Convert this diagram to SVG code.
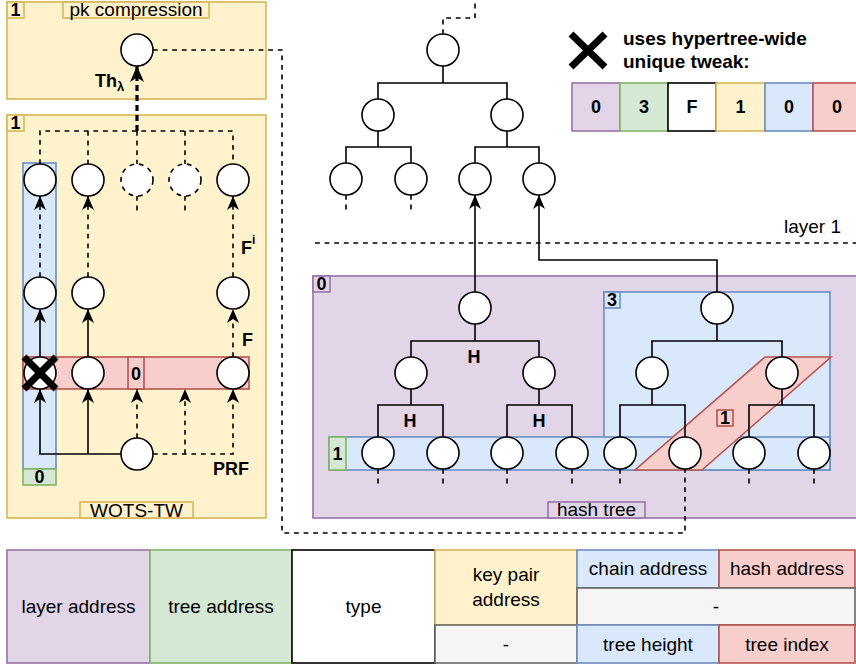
<svg xmlns="http://www.w3.org/2000/svg" width="856" height="668" viewBox="0 0 856 668">
<style>
text{font-family:"Liberation Sans",Arial,Helvetica,sans-serif;fill:#000}
.t19{font-size:19px}
.b{font-weight:bold}
.c{text-anchor:middle}
.n{fill:#fff;stroke:#000;stroke-width:1.6}
.nd{fill:#fff;stroke:#000;stroke-width:1.6;stroke-dasharray:4.8 4.8}
.ln{fill:none;stroke:#000;stroke-width:1.6}
.dl{fill:none;stroke:#000;stroke-width:1.6;stroke-dasharray:4.8 4.8}
.yel{fill:#fff2cc;stroke:#d6b656;stroke-width:1.6}
.blu{fill:#dae8fc;stroke:#6c8ebf;stroke-width:1.6}
.red{fill:#f8cecc;stroke:#b85450;stroke-width:1.6}
.grn{fill:#d5e8d4;stroke:#82b366;stroke-width:1.6}
.pur{fill:#e1d5e7;stroke:#9673a6;stroke-width:1.6}
.wht{fill:#fff;stroke:#000;stroke-width:1.6}
.gry{fill:#f5f5f5;stroke:#666;stroke-width:1.6}
.x{stroke:#000;stroke-width:7;fill:none}
</style>
<defs>
<marker id="arr" viewBox="0 0 14 12" refX="14" refY="6" markerWidth="14" markerHeight="12" markerUnits="userSpaceOnUse" orient="auto"><path d="M0,0 L14,6 L0,12 L4,6 Z" fill="#000"/></marker>
<marker id="arrT" viewBox="0 0 16 14" refX="16" refY="7" markerWidth="16" markerHeight="14" markerUnits="userSpaceOnUse" orient="auto"><path d="M0,0 L16,7 L0,14 L4.5,7 Z" fill="#000"/></marker>
</defs>

<!-- containers -->
<g id="pk-compression">
<rect class="yel" x="7" y="2" width="259" height="97"/>
<rect class="yel" x="7" y="2" width="17" height="16"/>
<text class="b c" x="15.5" y="16" font-size="18">1</text>
<rect class="yel" x="63" y="2" width="146" height="16"/>
<text class="t19 c" x="136" y="16">pk compression</text>
</g>
<g id="wots-tw">
<rect class="yel" x="7" y="115" width="259" height="403"/>
<rect class="yel" x="7" y="115" width="17" height="16"/>
<text class="b c" x="15.5" y="129" font-size="18">1</text>
<rect class="yel" x="80" y="502" width="113" height="16"/>
<text class="t19 c" x="136.5" y="517">WOTS-TW</text>
<rect class="blu" x="23" y="163" width="33" height="306"/>
<rect class="grn" x="23" y="469" width="33" height="16"/>
<text class="b c" x="39.5" y="483" font-size="18">0</text>
<rect class="red" x="23" y="357" width="226" height="32"/>
<rect class="red" x="128" y="357" width="16" height="32"/>
<text class="b c" x="136" y="380" font-size="18">0</text>
</g>
<g id="hash-tree">
<rect class="pur" x="313" y="276" width="550" height="242"/>
<rect class="pur" x="313" y="276" width="17" height="16"/>
<text class="b c" x="321.5" y="290" font-size="18">0</text>
<rect class="pur" x="548" y="502" width="97" height="16"/>
<text class="t19 c" x="596.5" y="516">hash tree</text>
<rect class="blu" x="604" y="292" width="226" height="178"/>
<rect class="blu" x="604" y="292" width="16" height="16"/>
<text class="b c" x="612" y="306" font-size="18">3</text>
<rect class="blu" x="329" y="437" width="501" height="33"/>
<rect class="grn" x="329" y="437" width="17" height="33"/>
<text class="b c" x="337.5" y="460" font-size="18">1</text>
<polygon class="red" points="635,470 702,470 831,357 765,357"/>
<rect class="red" x="717" y="410" width="16" height="16"/>
<text class="b c" x="725" y="424" font-size="18">1</text>
</g>

<!-- connectors -->
<g id="connectors">
<path class="dl" d="M40,164 V131 H233 V164 M88,131 V164 M137,131 V164 M185,131 V164"/>
<path class="dl" d="M137,196 V212 M185,196 V212"/>
<path d="M137,131 V66" fill="none" stroke="#000" stroke-width="3.2" stroke-dasharray="6 4" marker-end="url(#arrT)"/>
<path class="dl" d="M40,277 V196" marker-end="url(#arr)"/>
<path class="dl" d="M88,277 V196" marker-end="url(#arr)"/>
<path class="dl" d="M233,277 V196" marker-end="url(#arr)"/>
<path class="ln" d="M40,357 V309" marker-end="url(#arr)"/>
<path class="ln" d="M88,357 V309" marker-end="url(#arr)"/>
<path class="dl" d="M233,357 V309" marker-end="url(#arr)"/>
<path class="ln" d="M121,454 H40 V389" marker-end="url(#arr)"/>
<path class="ln" d="M88,454 V389" marker-end="url(#arr)"/>
<path class="dl" d="M137,438 V389" marker-end="url(#arr)"/>
<path class="dl" d="M153,454 H233 V389" marker-end="url(#arr)"/>
<path class="dl" d="M185,454 V389" marker-end="url(#arr)"/>
<path class="dl" d="M153,50 H282 V533 H685 V469"/>
<path class="dl" d="M443,34 V18 H475 V0"/>
<path class="ln" d="M443,66 V83 M378,99 V83 H507 V99"/>
<path class="ln" d="M378,131 V147 M346,163 V147 H411 V163"/>
<path class="ln" d="M507,131 V147 M475,163 V147 H539 V163"/>
<path class="dl" d="M346,195 V210 M411,195 V210"/>
<path class="ln" d="M475,292 V195" marker-end="url(#arr)"/>
<path class="ln" d="M717,292 V260 H539 V195" marker-end="url(#arr)"/>
<path class="dl" d="M315,243 H856"/>
<path class="ln" d="M475,324 V341 M411,357 V341 H539 V357"/>
<path class="ln" d="M411,389 V405 M378,437 V405 H443 V437"/>
<path class="ln" d="M539,389 V405 M507,437 V405 H572 V437"/>
<path class="ln" d="M717,324 V341 M652,357 V341 H782 V357"/>
<path class="ln" d="M652,389 V405 M620,437 V405 H685 V437"/>
<path class="ln" d="M782,389 V405 M749,437 V405 H814 V437"/>
<path class="dl" d="M378,469 V484 M443,469 V484 M507,469 V484 M572,469 V484 M620,469 V484 M749,469 V484 M814,469 V484"/>
</g>

<!-- nodes -->
<g id="pk-node"><circle class="n" cx="137" cy="50" r="16"/></g>
<g id="wots-nodes">
<circle class="n" cx="40" cy="180" r="16"/>
<circle class="n" cx="88" cy="180" r="16"/>
<circle class="nd" cx="137" cy="180" r="16"/>
<circle class="nd" cx="185" cy="180" r="16"/>
<circle class="n" cx="233" cy="180" r="16"/>
<circle class="n" cx="40" cy="293" r="16"/>
<circle class="n" cx="88" cy="293" r="16"/>
<circle class="n" cx="233" cy="293" r="16"/>
<circle class="n" cx="40" cy="373" r="16"/>
<circle class="n" cx="88" cy="373" r="16"/>
<circle class="n" cx="233" cy="373" r="16"/>
<circle class="n" cx="137" cy="454" r="16"/>
<path class="x" d="M24,357 L56,389 M24,389 L56,357"/>
</g>
<g id="upper-tree">
<circle class="n" cx="443" cy="50" r="16"/>
<circle class="n" cx="378" cy="115" r="16"/>
<circle class="n" cx="507" cy="115" r="16"/>
<circle class="n" cx="346" cy="179" r="16"/>
<circle class="n" cx="411" cy="179" r="16"/>
<circle class="n" cx="475" cy="179" r="16"/>
<circle class="n" cx="539" cy="179" r="16"/>
</g>
<g id="hash-tree-nodes">
<circle class="n" cx="475" cy="308" r="16"/>
<circle class="n" cx="411" cy="373" r="16"/>
<circle class="n" cx="539" cy="373" r="16"/>
<circle class="n" cx="378" cy="453" r="16"/>
<circle class="n" cx="443" cy="453" r="16"/>
<circle class="n" cx="507" cy="453" r="16"/>
<circle class="n" cx="572" cy="453" r="16"/>
<circle class="n" cx="717" cy="308" r="16"/>
<circle class="n" cx="652" cy="373" r="16"/>
<circle class="n" cx="782" cy="373" r="16"/>
<circle class="n" cx="620" cy="453" r="16"/>
<circle class="n" cx="685" cy="453" r="16"/>
<circle class="n" cx="749" cy="453" r="16"/>
<circle class="n" cx="814" cy="453" r="16"/>
</g>

<!-- labels -->
<g id="labels">
<text class="b" x="95" y="87" font-size="18">Th<tspan font-size="13" dy="4">λ</tspan></text>
<text class="b" x="241" y="254" font-size="18">F<tspan font-size="12" dy="-10">i</tspan></text>
<text class="b" x="242" y="346" font-size="18">F</text>
<text class="b" x="213" y="475" font-size="18">PRF</text>
<text class="b c" x="474" y="363" font-size="18">H</text>
<text class="b c" x="410" y="427" font-size="18">H</text>
<text class="b c" x="539" y="427" font-size="18">H</text>
<text class="t19" x="784" y="233">layer 1</text>
</g>

<!-- legend -->
<g id="legend">
<path class="x" d="M571,34 L605,67 M571,67 L605,34"/>
<text class="t19 b" x="623" y="45">uses hypertree-wide</text>
<text class="t19 b" x="623" y="68">unique tweak:</text>
<rect class="pur" x="572" y="83" width="48" height="48"/>
<rect class="grn" x="620" y="83" width="48" height="48"/>
<rect class="wht" x="668" y="83" width="48" height="48"/>
<rect class="yel" x="716" y="83" width="49" height="48"/>
<rect class="blu" x="765" y="83" width="48" height="48"/>
<rect class="red" x="813" y="83" width="48" height="48"/>
<text class="b c" x="596" y="113" font-size="18">0</text>
<text class="b c" x="644" y="113" font-size="18">3</text>
<text class="b c" x="692" y="113" font-size="18">F</text>
<text class="b c" x="740.5" y="113" font-size="18">1</text>
<text class="b c" x="789" y="113" font-size="18">0</text>
<text class="b c" x="837" y="113" font-size="18">0</text>
</g>

<!-- address table -->
<g id="address-table">
<rect class="pur" x="7" y="550" width="143" height="113"/>
<rect class="grn" x="150" y="550" width="142" height="113"/>
<rect class="wht" x="292" y="550" width="143" height="113"/>
<rect class="yel" x="435" y="550" width="142" height="75"/>
<rect class="gry" x="435" y="625" width="142" height="38"/>
<rect class="blu" x="577" y="550" width="142" height="38"/>
<rect class="red" x="719" y="550" width="136" height="38"/>
<rect class="gry" x="577" y="588" width="278" height="37"/>
<rect class="blu" x="577" y="625" width="142" height="38"/>
<rect class="red" x="719" y="625" width="136" height="38"/>
<text class="t19 c" x="78.5" y="613">layer address</text>
<text class="t19 c" x="221" y="613">tree address</text>
<text class="t19 c" x="363.5" y="613">type</text>
<text class="t19 c" x="506" y="581">key pair</text>
<text class="t19 c" x="506" y="606">address</text>
<text class="t19 c" x="506" y="651">-</text>
<text class="t19 c" x="648" y="575">chain address</text>
<text class="t19 c" x="787" y="575">hash address</text>
<text class="t19 c" x="716" y="613">-</text>
<text class="t19 c" x="648" y="651">tree height</text>
<text class="t19 c" x="787" y="651">tree index</text>
</g>
</svg>
